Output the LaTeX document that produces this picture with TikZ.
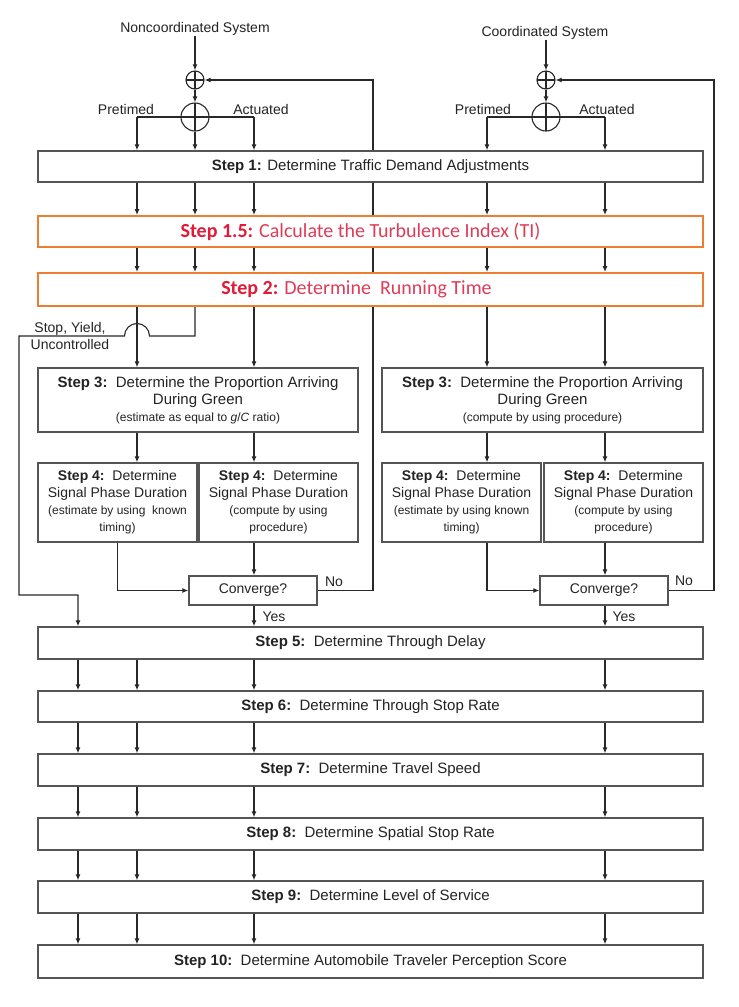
\documentclass[tikz,border=0pt]{standalone}
\usepackage{fontspec}
\setmainfont{Liberation Sans}
\newfontfamily\calfont{Carlito}
\usetikzlibrary{arrows.meta,calc}
\pgfdeclarelayer{bg}
\pgfsetlayers{bg,main}
\definecolor{boxgray}{RGB}{85,85,85}
\definecolor{linegray}{RGB}{40,40,40}
\definecolor{txtgray}{RGB}{35,35,35}
\definecolor{orangeb}{RGB}{237,125,49}
\definecolor{redb}{RGB}{226,26,56}
\definecolor{redt}{RGB}{222,60,88}
\newcommand\smallf{\fontsize{12}{14}\selectfont}
\newcommand\bigf{\fontsize{15}{17}\selectfont}
\tikzset{
  box/.style={draw=boxgray, line width=1.4pt, fill=white, inner sep=0pt, align=center,
    text=txtgray, font=\fontsize{14}{17}\selectfont},
  wide/.style={box, minimum width=665pt, minimum height=#1, font=\fontsize{15}{17}\selectfont},
  obox/.style={draw=orangeb, line width=2pt, fill=white, inner sep=0pt,
    minimum width=665pt, minimum height=#1, font=\calfont\fontsize{20}{22}\selectfont},
  halfbox/.style={box, minimum width=320pt, minimum height=64pt},
  qbox/.style={box, minimum width=159pt, minimum height=79pt},
  cbox/.style={box, minimum width=128pt, minimum height=29pt},
  conn/.style={draw=linegray, line width=1.1pt},
  arr/.style={conn, -{Latex[length=6pt,width=5pt]}},
  junc/.style={circle, draw=linegray, line width=1.1pt, fill=white, inner sep=0pt,
    path picture={\draw[linegray, line width=1.1pt]
      (path picture bounding box.north) -- (path picture bounding box.south)
      (path picture bounding box.west) -- (path picture bounding box.east);}},
  lbl/.style={inner sep=0pt, text=txtgray, font=\fontsize{14}{17}\selectfont, align=center},
}
\begin{document}
\begin{tikzpicture}[x=1pt,y=-1pt]
\useasboundingbox (0,0) rectangle (739,1007);
\begin{pgfonlayer}{bg}
\fill[white] (0,0) rectangle (739,1007);
\end{pgfonlayer}

% column coordinates
\coordinate (x19) at (19,0);
\coordinate (x78) at (78,0);
\coordinate (x137) at (137,0);
\coordinate (x195) at (195,0);
\coordinate (x254) at (254,0);
\coordinate (x373) at (373,0);
\coordinate (x487) at (487,0);
\coordinate (x605) at (605,0);
\coordinate (x714) at (714,0);
\coordinate (yb) at (0,336);
\coordinate (yby) at (0,595);

% headings and junctions
\node[lbl] (ncs) at (195,29) {Noncoordinated System};
\node[lbl] (cs) at (545,33) {Coordinated System};
\node[junc, minimum size=18pt] (jL) at (195,80) {};
\node[junc, minimum size=28pt] (bL) at (195,117) {};
\node[junc, minimum size=18pt] (jR) at (546,80) {};
\node[junc, minimum size=28pt] (bR) at (546,117) {};
\node[lbl] (preL) at (126,109) {Pretimed};
\node[lbl] (actL) at (261,109) {Actuated};
\node[lbl] (preR) at (483,109) {Pretimed};
\node[lbl] (actR) at (607,109) {Actuated};

% main boxes
\node[wide=31pt] (s1) at (370.5,166.5) {\textbf{Step 1:} Determine Traffic Demand Adjustments};
\node[obox=31pt] (s15) at (370.5,231.5) {{\bfseries\color{redb}Step 1.5:} {\color{redt}Calculate the Turbulence Index (TI)}\hspace*{20pt}};
\node[obox=33pt] (s2) at (370.5,289.5) {{\bfseries\color{redb}Step 2:} {\color{redt}Determine\ \ Running Time}\hspace*{28pt}};

\node[halfbox] (s3L) at (198,400) {\bigf\textbf{Step 3:}\ \ Determine the Proportion Arriving\\\bigf During Green\\{\smallf (estimate as equal to \textit{g}/\textit{C} ratio)}};
\node[halfbox, minimum width=321pt] (s3R) at (542.5,400) {\bigf\textbf{Step 3:}\ \ Determine the Proportion Arriving\\\bigf During Green\\{\smallf (compute by using procedure)}};

\node[qbox] (s4LA) at (117.5,502.5) {\textbf{Step 4:}\ \ Determine\\Signal Phase Duration\\{\smallf (estimate by using\ \ known}\\{\smallf timing)}};
\node[qbox] (s4LB) at (278.5,502.5) {\textbf{Step 4:}\ \ Determine\\Signal Phase Duration\\{\smallf (compute by using}\\{\smallf procedure)}};
\node[qbox] (s4RA) at (461.5,502.5) {\textbf{Step 4:}\ \ Determine\\Signal Phase Duration\\{\smallf (estimate by using known}\\{\smallf timing)}};
\node[qbox] (s4RB) at (623.5,502.5) {\textbf{Step 4:}\ \ Determine\\Signal Phase Duration\\{\smallf (compute by using}\\{\smallf procedure)}};

\node[cbox] (cL) at (253,590.5) {Converge?};
\node[cbox] (cR) at (604,590.5) {Converge?};

\node[wide=32pt] (s5) at (370.5,643) {\textbf{Step 5:}\ \ Determine Through Delay};
\node[wide=31pt] (s6) at (370.5,706.5) {\textbf{Step 6:}\ \ Determine Through Stop Rate};
\node[wide=32pt] (s7) at (370.5,770) {\textbf{Step 7:}\ \ Determine Travel Speed};
\node[wide=32pt] (s8) at (370.5,834) {\textbf{Step 8:}\ \ Determine Spatial Stop Rate};
\node[wide=32pt] (s9) at (370.5,897) {\textbf{Step 9:}\ \ Determine Level of Service};
\node[wide=33pt] (s10) at (370.5,961.5) {\textbf{Step 10:}\ \ Determine Automobile Traveler Perception Score};

% labels
\node[lbl] (syu) at (70,336) {Stop, Yield,\\Uncontrolled};
\node[lbl] (noL) at (334,582) {No};
\node[lbl] (yesL) at (274,617) {Yes};
\node[lbl] (noR) at (684,581) {No};
\node[lbl] (yesR) at (624,617) {Yes};

% top inputs
\draw[arr] (ncs.south -| jL) -- (jL.north);
\draw[arr] (jL.south) -- (bL.north);
\draw[conn] (x137 |- bL.center) -- (x254 |- bL.center);
\draw[arr] (x137 |- bL.center) -- (s1.north -| x137);
\draw[arr] (bL.south) -- (s1.north -| bL);
\draw[arr] (x254 |- bL.center) -- (s1.north -| x254);

\draw[arr] (cs.south -| jR) -- (jR.north);
\draw[arr] (jR.south) -- (bR.north);
\draw[conn] (x487 |- bR.center) -- (x605 |- bR.center);
\draw[arr] (x487 |- bR.center) -- (s1.north -| x487);
\draw[arr] (x605 |- bR.center) -- (s1.north -| x605);

% step 1 -> 1.5 -> 2
\foreach \c in {x137,x195,x254,x487,x605}{
  \draw[arr] (s1.south -| \c) -- (s15.north -| \c);
  \draw[arr] (s15.south -| \c) -- (s2.north -| \c);
}

% step 2 -> step 3
\draw[arr] (s2.south -| x137) -- (s3L.north -| x137);
\draw[arr] (s2.south -| x254) -- (s3L.north -| x254);
\draw[arr] (s2.south -| x487) -- (s3R.north -| x487);
\draw[arr] (s2.south -| x605) -- (s3R.north -| x605);

% bypass
\draw[arr] (s2.south -| x195) -- (x195 |- yb) -- ($(x137 |- yb)+(12.5,0)$)
  arc[start angle=0, end angle=180, radius=12.5pt] -- (x19 |- yb) -- (x19 |- yby)
  -- (x78 |- yby) -- (s5.north -| x78);

% step 3 -> step 4
\draw[arr] (s3L.south -| x137) -- (s4LA.north -| x137);
\draw[arr] (s3L.south -| x254) -- (s4LB.north -| x254);
\draw[arr] (s3R.south -| x487) -- (s4RA.north -| x487);
\draw[arr] (s3R.south -| x605) -- (s4RB.north -| x605);

% step 4 -> converge
\draw[arr] (s4LB.south -| x254) -- (cL.north -| x254);
\draw[arr] (s4LA.south) |- (cL.west);
\draw[arr] (s4RB.south -| x605) -- (cR.north -| x605);
\draw[arr] (s4RA.south -| x487) |- (cR.west);

% feedback loops
\begin{pgfonlayer}{bg}
\draw[arr] (cL.east) -- (x373 |- cL.east) -- (x373 |- jL) -- (jL.east);
\draw[arr] (cR.east) -- (x714 |- cR.east) -- (x714 |- jR) -- (jR.east);
\end{pgfonlayer}

% converge -> step 5
\draw[arr] (cL.south -| x254) -- (s5.north -| x254);
\draw[arr] (cR.south -| x605) -- (s5.north -| x605);

% lower steps
\foreach \a/\b in {s5/s6,s6/s7,s7/s8,s8/s9,s9/s10}{
  \foreach \c in {x78,x137,x254,x605}{
    \draw[arr] (\a.south -| \c) -- (\b.north -| \c);
  }
}
\end{tikzpicture}
\end{document}
